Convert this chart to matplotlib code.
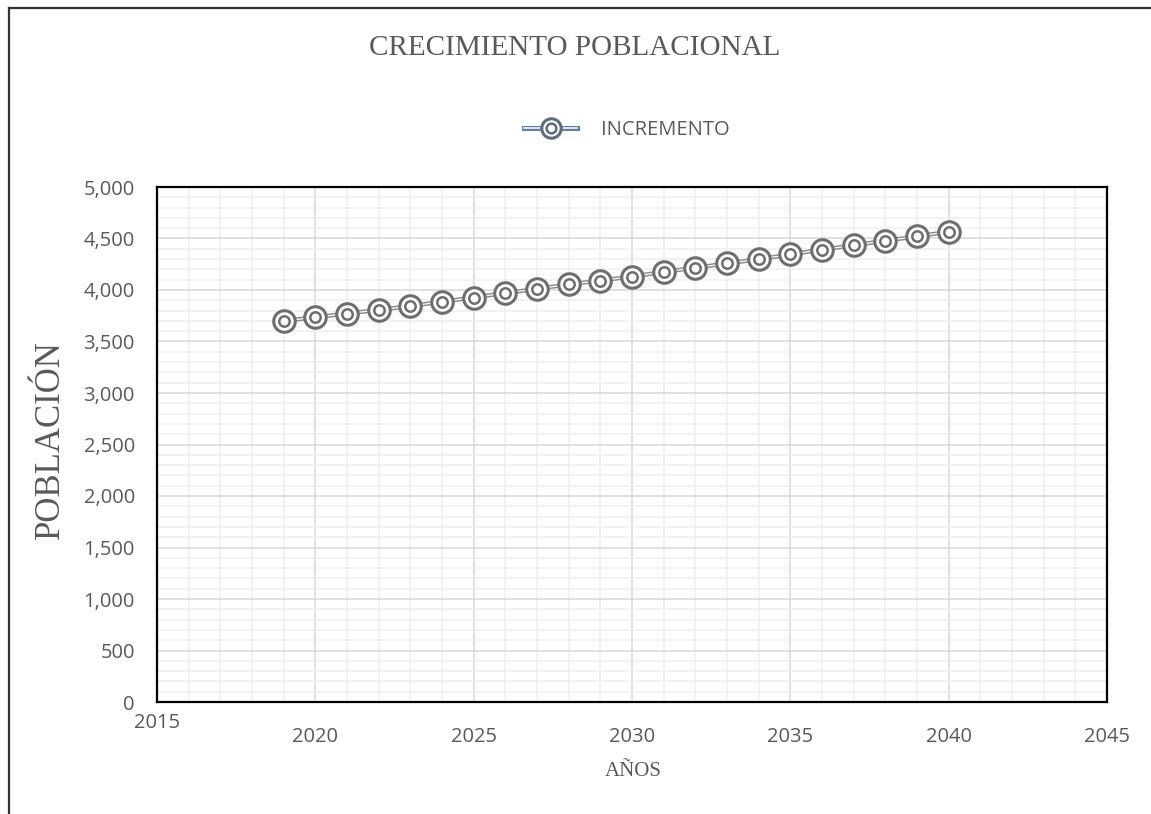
import matplotlib.pyplot as plt
from matplotlib.lines import Line2D
from matplotlib.legend_handler import HandlerTuple
from matplotlib.ticker import MultipleLocator, FuncFormatter
import matplotlib.transforms as mtrans

years = [2019, 2020, 2021, 2022, 2023, 2024, 2025, 2026, 2027, 2028, 2029,
         2030, 2031, 2032, 2033, 2034, 2035, 2036, 2037, 2038, 2039, 2040]
poblacion = [3700, 3735, 3771, 3807, 3844, 3887, 3927, 3971, 4011, 4055, 4091,
             4131, 4176, 4216, 4258, 4298, 4346, 4392, 4434, 4478, 4520, 4566]
serie = "INCREMENTO"

gris = '#595959'
linea = '#8a8a8a'
marca = '#6e6e6e'

fig = plt.figure(figsize=(11.51, 8.14), dpi=100)
ax = fig.add_axes([157/1151, 1-702/814, 950/1151, 515/814])

# double line + double circle markers
ax.plot(years, poblacion, color=linea, lw=3.0, zorder=3, solid_capstyle='butt')
ax.plot(years, poblacion, color='white', lw=0.9, zorder=4)
ax.plot(years, poblacion, ls='none', marker='o', ms=15.5, mfc='white',
        mec=marca, mew=2.2, zorder=5)
ax.plot(years, poblacion, ls='none', marker='o', ms=7.5, mfc='white',
        mec=marca, mew=1.8, zorder=6)

ax.set_xlim(2015, 2045)
ax.set_ylim(0, 5000)
ax.xaxis.set_major_locator(MultipleLocator(5))
ax.xaxis.set_minor_locator(MultipleLocator(1))
ax.yaxis.set_major_locator(MultipleLocator(500))
ax.yaxis.set_minor_locator(MultipleLocator(100))
ax.yaxis.set_major_formatter(FuncFormatter(lambda v, p: f"{int(v):,}"))
# 2015 is drawn by hand a little higher, as in the original
ax.xaxis.set_major_formatter(FuncFormatter(lambda v, p: "" if v < 2016 else f"{int(v)}"))

ax.grid(which='major', color='#d9d9d9', lw=1.1, zorder=0)
ax.grid(which='minor', color='#efefef', lw=1.1, zorder=0)
ax.set_axisbelow(True)

for s in ax.spines.values():
    s.set_color('black')
    s.set_linewidth(1.6)

ax.tick_params(which='both', length=0)
ax.tick_params(axis='y', pad=16, labelsize=14.5, labelcolor=gris)
ax.tick_params(axis='x', pad=18, labelsize=14.5, labelcolor=gris)
for lab in ax.get_xticklabels() + ax.get_yticklabels():
    lab.set_fontfamily('Open Sans')

tr = mtrans.blended_transform_factory(ax.transData, fig.transFigure)
ax.text(2015, 1-723/814, "2015", transform=tr, ha='center', va='center',
        fontsize=14.5, family='Open Sans', color=gris, clip_on=False)

fig.text(575/1151, 1-48/814, "CRECIMIENTO POBLACIONAL", ha='center', va='center',
         fontsize=21, family='Liberation Serif', color=gris)
fig.text(50/1151, 1-440/814, "POBLACIÓN", ha='center', va='center', rotation=90,
         fontsize=25, family='Liberation Serif', color=gris)
fig.text(633/1151, 1-772/814, "AÑOS", ha='center', va='center',
         fontsize=15, family='Liberation Serif', color=gris)

h1 = Line2D([], [], color='#5d7fb3', lw=3.6)
h2 = Line2D([], [], color='white', lw=1.1)
h3 = Line2D([], [], ls='none', marker='o', ms=14, mfc='white', mec='#5f6c80', mew=2.2)
h4 = Line2D([], [], ls='none', marker='o', ms=7, mfc='white', mec='#5f6c80', mew=1.8)
fig.legend([(h1, h2, h3, h4)], [serie], handler_map={tuple: HandlerTuple(ndivide=1)},
           loc='center', bbox_to_anchor=(627/1151, 1-130/814), frameon=False,
           handlelength=2.6, handletextpad=1.2,
           prop={'family': 'Open Sans', 'size': 14.5}, labelcolor=gris)

# outer chart-area border (left and top edges visible)
fig.add_artist(Line2D([9/1151, 9/1151], [0, 1-8/814], color='#333333', lw=1.6,
                      transform=fig.transFigure))
fig.add_artist(Line2D([9/1151, 1], [1-8/814, 1-8/814], color='#333333', lw=1.6,
                      transform=fig.transFigure))

fig.savefig('out.png', dpi=100)
